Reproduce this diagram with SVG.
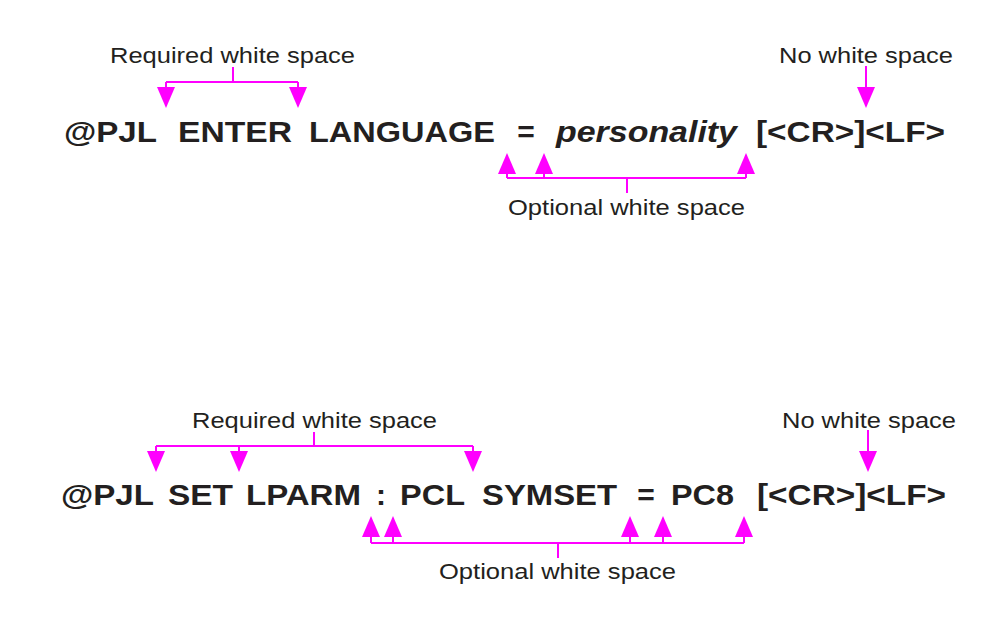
<svg xmlns="http://www.w3.org/2000/svg" width="996" height="630" viewBox="0 0 996 630">
  <style>
    .cmd { font-family: "Liberation Sans", Arial, Helvetica, sans-serif; font-weight: bold; font-size: 30px; fill: #231f20; }
    .it { font-style: italic; }
    .lbl { font-family: "Liberation Sans", Arial, Helvetica, sans-serif; font-size: 22px; fill: #231f20; }
    .con { fill: none; stroke: #ff00ff; stroke-width: 2; }
    .arr { marker-end: url(#ah); }
  </style>
  <defs>
    <marker id="ah" viewBox="0 -9 21 18" refX="0" refY="0" markerWidth="21" markerHeight="18" markerUnits="userSpaceOnUse" orient="auto">
      <path d="M0,-9 L21,0 L0,9 z" fill="#ff00ff"/>
    </marker>
  </defs>
  <rect width="996" height="630" fill="#ffffff"/>

  <g id="command1">
    <text class="cmd" x="64" y="142" textLength="93" lengthAdjust="spacingAndGlyphs">@PJL</text>
    <text class="cmd" x="178" y="142" textLength="114" lengthAdjust="spacingAndGlyphs">ENTER</text>
    <text class="cmd" x="309" y="142" textLength="186" lengthAdjust="spacingAndGlyphs">LANGUAGE</text>
    <text class="cmd" x="526" y="142" text-anchor="middle">=</text>
    <text class="cmd it" x="556" y="142" textLength="181" lengthAdjust="spacingAndGlyphs">personality</text>
    <text class="cmd" x="756" y="142" textLength="189" lengthAdjust="spacingAndGlyphs">[&lt;CR&gt;]&lt;LF&gt;</text>
  </g>
  <g id="label-required-1">
    <text class="lbl" x="110" y="63" textLength="245" lengthAdjust="spacingAndGlyphs">Required white space</text>
  </g>
  <g id="label-nows-1">
    <text class="lbl" x="779" y="63" textLength="174" lengthAdjust="spacingAndGlyphs">No white space</text>
  </g>
  <g id="label-optional-1">
    <text class="lbl" x="508" y="215" textLength="237" lengthAdjust="spacingAndGlyphs">Optional white space</text>
  </g>

  <g id="command2">
    <text class="cmd" x="61" y="505" textLength="93" lengthAdjust="spacingAndGlyphs">@PJL</text>
    <text class="cmd" x="168" y="505" textLength="65" lengthAdjust="spacingAndGlyphs">SET</text>
    <text class="cmd" x="246" y="505" textLength="115" lengthAdjust="spacingAndGlyphs">LPARM</text>
    <text class="cmd" x="381" y="505" text-anchor="middle">:</text>
    <text class="cmd" x="400" y="505" textLength="65" lengthAdjust="spacingAndGlyphs">PCL</text>
    <text class="cmd" x="482" y="505" textLength="135" lengthAdjust="spacingAndGlyphs">SYMSET</text>
    <text class="cmd" x="646" y="505" text-anchor="middle">=</text>
    <text class="cmd" x="671" y="505" textLength="63" lengthAdjust="spacingAndGlyphs">PC8</text>
    <text class="cmd" x="757" y="505" textLength="189" lengthAdjust="spacingAndGlyphs">[&lt;CR&gt;]&lt;LF&gt;</text>
  </g>
  <g id="label-required-2">
    <text class="lbl" x="192" y="428" textLength="245" lengthAdjust="spacingAndGlyphs">Required white space</text>
  </g>
  <g id="label-nows-2">
    <text class="lbl" x="782" y="428" textLength="174" lengthAdjust="spacingAndGlyphs">No white space</text>
  </g>
  <g id="label-optional-2">
    <text class="lbl" x="439" y="579" textLength="237" lengthAdjust="spacingAndGlyphs">Optional white space</text>
  </g>

  <g id="connectors">
    <path class="con" d="M233,67 V82 M166,82 H298"/>
    <path class="con arr" d="M166,82 V87"/>
    <path class="con arr" d="M298,82 V87"/>
    <path class="con arr" d="M866,66 V87"/>
    <path class="con" d="M507,178 H746 M627,178 V193"/>
    <path class="con arr" d="M507,178 V174"/>
    <path class="con arr" d="M544,178 V174"/>
    <path class="con arr" d="M746,178 V174"/>

    <path class="con" d="M314,432 V446 M156,446 H473"/>
    <path class="con arr" d="M156,446 V451"/>
    <path class="con arr" d="M239,446 V451"/>
    <path class="con arr" d="M473,446 V451"/>
    <path class="con arr" d="M868,430 V451"/>
    <path class="con" d="M371,543 H744 M558,543 V558"/>
    <path class="con arr" d="M371,543 V537"/>
    <path class="con arr" d="M393,543 V537"/>
    <path class="con arr" d="M630,543 V537"/>
    <path class="con arr" d="M663,543 V537"/>
    <path class="con arr" d="M744,543 V537"/>
  </g>
</svg>
